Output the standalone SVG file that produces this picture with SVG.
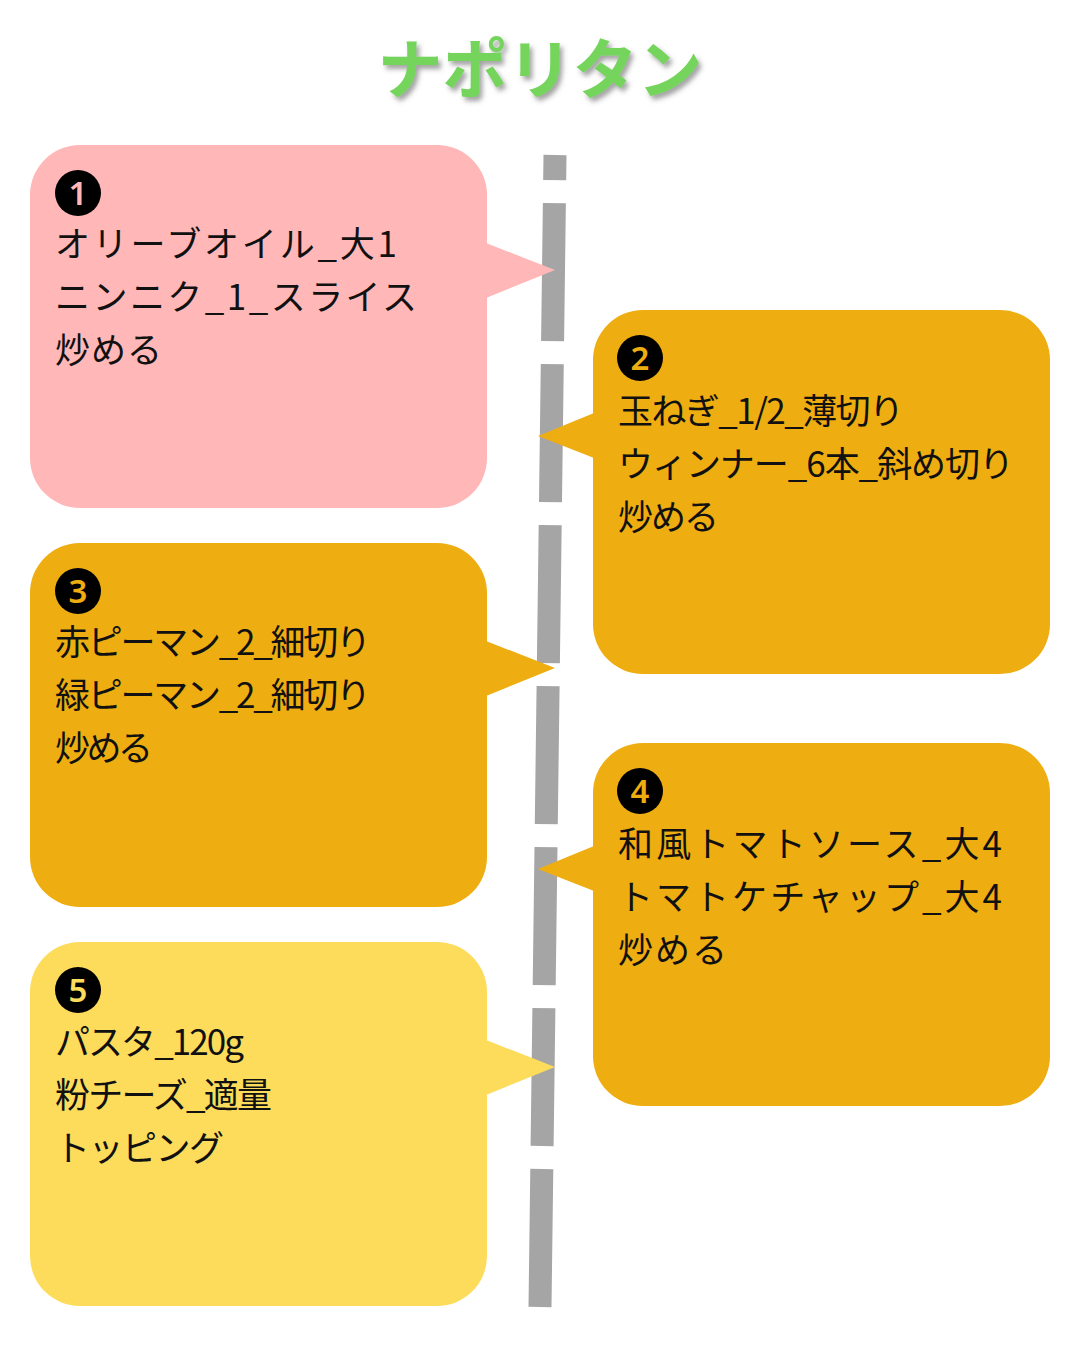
<svg xmlns="http://www.w3.org/2000/svg" width="1080" height="1350" viewBox="0 0 1080 1350">
<defs>
<filter id="sh" x="-10%" y="-20%" width="130%" height="150%">
<feDropShadow dx="3" dy="4" stdDeviation="2.5" flood-color="#555" flood-opacity="0.55"/>
</filter>
<style>
.t{font-family:"Noto Sans CJK JP","Noto Sans",sans-serif;font-size:35px;fill:#111}
.c{fill:#000}
.d{font-family:"Noto Sans","Noto Sans CJK JP",sans-serif;font-size:33px;font-weight:600;text-anchor:middle}
.pink{fill:#ffb7b7}
.org{fill:#eead10}
.yel{fill:#fddc5b}
.title{font-family:"Noto Sans CJK JP",sans-serif;font-weight:700;font-size:65px;fill:#74d45c}
</style>
</defs>
<rect width="1080" height="1350" fill="#fff"/>
<text class="title" x="540" y="93" text-anchor="middle" filter="url(#sh)">ナポリタン</text>
<g id="connectors">
<line x1="540" y1="1307" x2="555" y2="155" stroke="#a5a5a5" stroke-width="23" stroke-dasharray="138 23"/>
</g>
<g id="step1">
<rect class="pink" x="30" y="145" width="457" height="363" rx="50"/>
<polygon class="pink" points="486,243 555,270 486,298"/>
<circle class="c" cx="78" cy="193" r="23"/>
<text class="d pink" x="78" y="205">1</text>
<text class="t" x="55" y="257" textLength="342" lengthAdjust="spacing">オリーブオイル_大1</text>
<text class="t" x="55" y="310" textLength="362" lengthAdjust="spacing">ニンニク_1_スライス</text>
<text class="t" x="55" y="363" textLength="107" lengthAdjust="spacing">炒める</text>
</g>
<g id="step2">
<rect class="org" x="593" y="310" width="457" height="364" rx="50"/>
<polygon class="org" points="594,413 538,436 594,458"/>
<circle class="c" cx="640" cy="358" r="23"/>
<text class="d org" x="640" y="370">2</text>
<text class="t" x="618" y="424" textLength="286" lengthAdjust="spacing">玉ねぎ_1/2_薄切り</text>
<text class="t" x="618" y="477" textLength="396" lengthAdjust="spacing">ウィンナー_6本_斜め切り</text>
<text class="t" x="618" y="530" textLength="101" lengthAdjust="spacing">炒める</text>
</g>
<g id="step3">
<rect class="org" x="30" y="543" width="457" height="364" rx="50"/>
<polygon class="org" points="486,641 555,668 486,696"/>
<circle class="c" cx="78" cy="591" r="23"/>
<text class="d org" x="78" y="603">3</text>
<text class="t" x="55" y="655" textLength="316" lengthAdjust="spacing">赤ピーマン_2_細切り</text>
<text class="t" x="55" y="708" textLength="316" lengthAdjust="spacing">緑ピーマン_2_細切り</text>
<text class="t" x="55" y="761" textLength="98" lengthAdjust="spacing">炒める</text>
</g>
<g id="step4">
<rect class="org" x="593" y="743" width="457" height="363" rx="50"/>
<polygon class="org" points="594,846 538,869 594,891"/>
<circle class="c" cx="640" cy="791" r="23"/>
<text class="d org" x="640" y="803">4</text>
<text class="t" x="618" y="857" textLength="384" lengthAdjust="spacing">和風トマトソース_大4</text>
<text class="t" x="618" y="910" textLength="384" lengthAdjust="spacing">トマトケチャップ_大4</text>
<text class="t" x="618" y="963" textLength="109" lengthAdjust="spacing">炒める</text>
</g>
<g id="step5">
<rect class="yel" x="30" y="942" width="457" height="364" rx="50"/>
<polygon class="yel" points="486,1040 555,1067 486,1095"/>
<circle class="c" cx="78" cy="990" r="23"/>
<text class="d yel" x="78" y="1002">5</text>
<text class="t" x="55" y="1055" textLength="189" lengthAdjust="spacing">パスタ_120g</text>
<text class="t" x="55" y="1108" textLength="217" lengthAdjust="spacing">粉チーズ_適量</text>
<text class="t" x="55" y="1161" textLength="169" lengthAdjust="spacing">トッピング</text>
</g>
</svg>
